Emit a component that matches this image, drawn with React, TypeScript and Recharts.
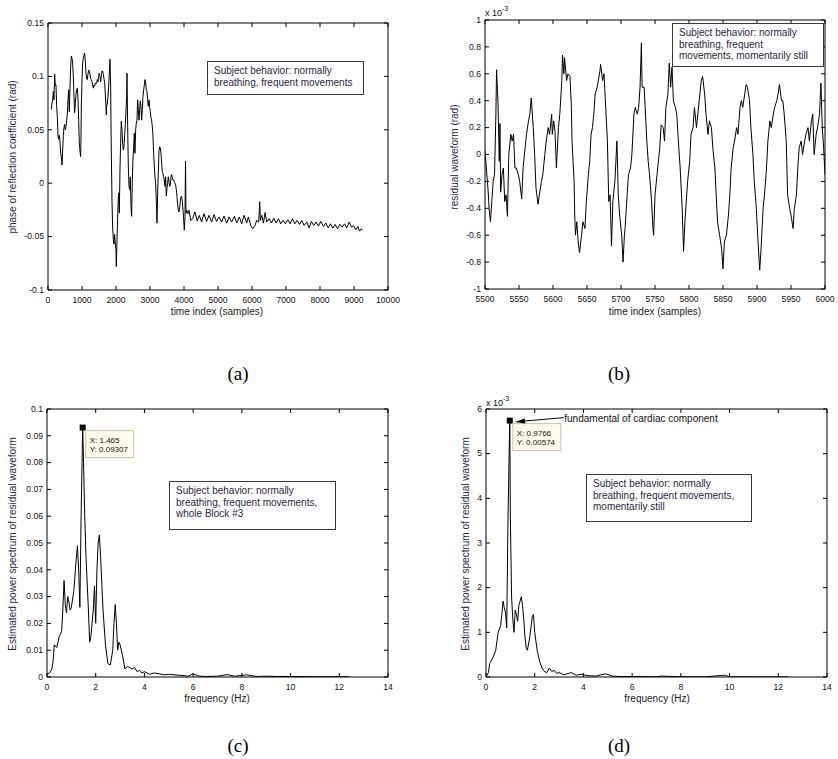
import React from 'react'
import { LineChart, Line, XAxis, YAxis, ReferenceDot } from 'recharts'

const SANS = '"Liberation Sans", Arial, Helvetica, sans-serif'
const SERIF = '"Liberation Serif", "Times New Roman", serif'

// (a) phase of reflection coefficient vs time index
const phaseIdx = [
  98, 118, 137, 157, 176, 196, 216, 235, 255, 274, 294, 314, 333, 353, 372, 392, 412, 431, 451, 470,
  490, 510, 529, 549, 568, 588, 608, 627, 647, 666, 686, 706, 725, 745, 764, 784, 804, 823, 843, 862,
  882, 902, 921, 941, 960, 970, 980, 1000, 1019, 1039, 1058, 1078, 1098, 1117, 1137, 1156, 1176, 1196,
  1215, 1235, 1254, 1274, 1294, 1313, 1333, 1352, 1372, 1392, 1411, 1431, 1450, 1470, 1490, 1509, 1529,
  1548, 1568, 1588, 1607, 1627, 1646, 1666, 1686, 1705, 1715, 1725, 1745, 1764, 1784, 1803, 1823, 1843,
  1852, 1862, 1882, 1901, 1921, 1940, 1960, 1980, 1999, 2009, 2019, 2038, 2058, 2078, 2097, 2117, 2136,
  2156, 2176, 2195, 2215, 2234, 2254, 2274, 2293, 2313, 2323, 2343, 2362, 2382, 2401, 2421, 2441, 2460,
  2480, 2499, 2519, 2539, 2558, 2578, 2597, 2617, 2637, 2656, 2676, 2695, 2715, 2735, 2754, 2774, 2794,
  2813, 2833, 2852, 2872, 2891, 2911, 2931, 2950, 2970, 2989, 3009, 3029, 3048, 3068, 3087, 3107, 3127,
  3146, 3166, 3186, 3205, 3225, 3244, 3264, 3284, 3303, 3323, 3342, 3362, 3382, 3401, 3421, 3440, 3460,
  3480, 3499, 3519, 3539, 3558, 3578, 3597, 3617, 3637, 3656, 3676, 3695, 3715, 3735, 3754, 3774, 3794,
  3813, 3833, 3852, 3872, 3892, 3911, 3931, 3950, 3970, 3990, 4009, 4029, 4045, 4058, 4076, 4116, 4145,
  4200, 4253, 4322, 4390, 4450, 4518, 4587, 4666, 4734, 4813, 4882, 4960, 5029, 5108, 5176, 5255, 5324,
  5402, 5481, 5550, 5628, 5697, 5766, 5844, 5894, 5962, 6021, 6090, 6139, 6198, 6227, 6247, 6287, 6336,
  6385, 6434, 6503, 6571, 6640, 6709, 6778, 6846, 6915, 6984, 7053, 7121, 7190, 7259, 7327, 7396, 7465,
  7533, 7612, 7680, 7749, 7818, 7886, 7955, 8024, 8102, 8171, 8240, 8309, 8377, 8446, 8515, 8584, 8652,
  8721, 8790, 8859, 8928, 8986, 9055, 9114, 9163, 9212, 9251,
]
const phaseRad = [
  0.069, 0.075, 0.078, 0.086, 0.078, 0.102, 0.091, 0.092, 0.072, 0.0625, 0.044, 0.041, 0.045, 0.039, 0.028,
  0.025, 0.017, 0.031, 0.045, 0.052, 0.055, 0.05, 0.053, 0.059, 0.064, 0.078, 0.0875, 0.067, 0.09, 0.109,
  0.119, 0.117, 0.1125, 0.1, 0.081, 0.066, 0.075, 0.083, 0.0875, 0.089, 0.08, 0.059, 0.0375, 0.03, 0.025,
  0.041, 0.072, 0.097, 0.1125, 0.117, 0.12, 0.122, 0.114, 0.103, 0.098, 0.097, 0.102, 0.106, 0.105, 0.102,
  0.098, 0.097, 0.095, 0.092, 0.089, 0.092, 0.091, 0.094, 0.093, 0.094, 0.097, 0.095, 0.1, 0.103, 0.1,
  0.095, 0.1, 0.105, 0.105, 0.102, 0.098, 0.094, 0.083, 0.072, 0.064, 0.072, 0.075, 0.081, 0.09, 0.103,
  0.116, 0.09, 0.059, 0.031, -0.016, -0.041, -0.053, -0.057, -0.048, -0.056, -0.0625, -0.078, -0.066,
  -0.044, -0.022, -0.009, -0.028, 0.0125, 0.0375, 0.058, 0.05, 0.0375, 0.031, 0.034, 0.045, 0.055, 0.067,
  0.081, 0.103, 0.053, 0.016, -0.003, -0.006, 0.006, -0.022, -0.031, 0.003, 0.022, 0.034, 0.047, 0.028,
  0.05, 0.056, 0.059, 0.078, 0.069, 0.059, 0.069, 0.077, 0.072, 0.059, 0.069, 0.081, 0.0875, 0.092, 0.097,
  0.094, 0.0875, 0.086, 0.078, 0.072, 0.078, 0.072, 0.067, 0.061, 0.059, 0.053, 0.044, 0.028, 0.016, 0.006,
  0.0, -0.016, -0.0375, -0.009, 0.009, 0.03, 0.034, 0.033, 0.028, 0.019, 0.011, 0.009, 0.006, 0.003,
  -0.003, 0.006, -0.012, -0.005, 0.0, 0.006, 0.0016, -0.003, -0.0016, 0.006, 0.008, 0.005, 0.003, 0.003,
  0.0016, 0.0, -0.0016, -0.006, -0.0125, -0.02, -0.025, -0.027, -0.023, -0.017, -0.0125, -0.0125, -0.017,
  -0.025, -0.034, -0.044, -0.031, 0.0206, -0.028, -0.0253, -0.0285, -0.0253, -0.035, -0.0332, -0.0269,
  -0.0354, -0.0301, -0.0364, -0.0285, -0.0358, -0.0301, -0.0364, -0.0294, -0.0358, -0.0316, -0.0364,
  -0.0307, -0.0373, -0.0316, -0.0364, -0.031, -0.0373, -0.0316, -0.038, -0.0301, -0.0373, -0.0316,
  -0.0396, -0.0427, -0.0396, -0.0348, -0.0364, -0.0174, -0.0348, -0.0301, -0.0373, -0.0275, -0.0364,
  -0.0332, -0.0373, -0.0326, -0.0373, -0.0332, -0.038, -0.0348, -0.038, -0.0342, -0.038, -0.0332, -0.038,
  -0.0348, -0.0386, -0.0348, -0.0396, -0.0364, -0.0418, -0.0358, -0.0396, -0.0364, -0.0402, -0.0358,
  -0.0405, -0.0373, -0.0418, -0.038, -0.0421, -0.0386, -0.0427, -0.0386, -0.0411, -0.038, -0.0418,
  -0.0364, -0.0411, -0.0396, -0.0437, -0.0405, -0.0449, -0.0427, -0.0437,
]
const phaseTicksX = [0, 1000, 2000, 3000, 4000, 5000, 6000, 7000, 8000, 9000, 10000]
const phaseTicksY = [-0.1, -0.05, 0, 0.05, 0.1, 0.15]

// (b) residual waveform, values in units of 1e-3 rad
const residIdx = [
  5500, 5502, 5505, 5506, 5508, 5510, 5512, 5514, 5516, 5517, 5519, 5521, 5522, 5523, 5525, 5527, 5529,
  5531, 5533, 5535, 5538, 5540, 5542, 5544, 5546, 5549, 5551, 5554, 5556, 5559, 5561, 5564, 5566, 5568,
  5571, 5573, 5575, 5578, 5580, 5583, 5585, 5588, 5590, 5593, 5595, 5598, 5599, 5601, 5603, 5605, 5608,
  5610, 5613, 5614, 5616, 5617, 5620, 5622, 5625, 5627, 5628, 5631, 5632, 5633, 5635, 5637, 5639, 5642,
  5644, 5647, 5649, 5652, 5654, 5656, 5658, 5660, 5662, 5665, 5669, 5670, 5673, 5675, 5677, 5680, 5682,
  5684, 5686, 5688, 5691, 5692, 5694, 5696, 5698, 5701, 5703, 5705, 5706, 5709, 5711, 5714, 5716, 5719,
  5721, 5724, 5726, 5728, 5730, 5731, 5734, 5736, 5738, 5740, 5742, 5745, 5747, 5748, 5750, 5753, 5754,
  5757, 5759, 5762, 5764, 5766, 5769, 5771, 5773, 5775, 5777, 5780, 5782, 5785, 5787, 5790, 5792, 5794,
  5796, 5798, 5801, 5803, 5806, 5808, 5811, 5813, 5816, 5818, 5820, 5823, 5825, 5828, 5830, 5833, 5835,
  5838, 5840, 5842, 5845, 5848, 5850, 5852, 5855, 5858, 5860, 5862, 5865, 5867, 5870, 5872, 5875, 5877,
  5879, 5882, 5884, 5886, 5889, 5891, 5894, 5896, 5899, 5901, 5904, 5906, 5909, 5911, 5914, 5916, 5919,
  5921, 5924, 5926, 5929, 5931, 5933, 5936, 5938, 5940, 5943, 5945, 5948, 5950, 5953, 5955, 5958, 5960,
  5962, 5965, 5967, 5970, 5972, 5975, 5977, 5980, 5982, 5984, 5987, 5989, 5992, 5994, 5996, 5998, 6000,
]
const residMilli = [
  0.03, -0.1, -0.3, -0.4, -0.5, -0.35, -0.2, -0.15, 0.3, 0.63, 0.4, -0.05, 0.23, -0.28, -0.15, -0.1, -0.35,
  -0.3, -0.46, 0.0, 0.15, 0.1, 0.15, -0.1, -0.1, -0.15, -0.2, -0.33, -0.1, 0.05, 0.15, 0.25, 0.3, 0.42,
  0.2, 0.0, -0.25, -0.37, -0.3, -0.2, -0.15, 0.0, 0.1, 0.2, 0.15, 0.3, 0.15, 0.25, 0.17, -0.1, 0.2,
  0.3, 0.55, 0.74, 0.6, 0.72, 0.55, 0.6, 0.58, 0.35, 0.1, -0.2, -0.45, -0.6, -0.5, -0.65, -0.73, -0.6,
  -0.5, -0.55, -0.35, -0.15, -0.05, 0.15, 0.2, 0.3, 0.45, 0.5, 0.62, 0.67, 0.55, 0.6, 0.4, 0.1, -0.35,
  -0.3, -0.68, -0.35, -0.2, -0.1, 0.1, -0.3, -0.45, -0.6, -0.8, -0.6, -0.55, -0.3, -0.15, -0.1, 0.0, 0.3,
  0.35, 0.3, 0.35, 0.5, 0.83, 0.5, 0.5, 0.3, 0.1, -0.05, -0.15, -0.35, -0.55, -0.6, -0.3, -0.15, -0.1,
  0.05, 0.22, 0.2, 0.1, 0.35, 0.45, 0.68, 0.5, 0.65, 0.4, 0.35, 0.3, 0.05, -0.1, -0.4, -0.72, -0.5,
  -0.35, -0.2, -0.05, 0.15, 0.2, 0.35, 0.2, 0.3, 0.45, 0.55, 0.58, 0.45, 0.3, 0.15, 0.25, 0.2, 0.05,
  -0.1, -0.3, -0.5, -0.6, -0.7, -0.85, -0.65, -0.6, -0.45, -0.3, -0.1, 0.05, 0.1, 0.2, 0.15, 0.35, 0.4,
  0.35, 0.45, 0.52, 0.5, 0.4, 0.2, 0.0, -0.2, -0.4, -0.6, -0.86, -0.7, -0.4, -0.3, -0.1, 0.1, 0.25,
  0.2, 0.3, 0.35, 0.4, 0.45, 0.52, 0.4, 0.4, 0.3, 0.1, -0.3, -0.4, -0.45, -0.55, -0.4, -0.3, -0.1,
  0.05, 0.1, 0.0, 0.1, 0.15, 0.2, 0.1, 0.25, 0.3, 0.0, 0.15, 0.2, 0.3, 0.53, 0.2, 0.05, -0.15,
]
const residTicksX = [5500, 5550, 5600, 5650, 5700, 5750, 5800, 5850, 5900, 5950, 6000]
const residTicksY = [-1, -0.8, -0.6, -0.4, -0.2, 0, 0.2, 0.4, 0.6, 0.8, 1]

// (c) spectrum, whole Block #3
const blockHz = [
  0, 0.1, 0.2, 0.25, 0.3, 0.4, 0.45, 0.5, 0.6, 0.65, 0.7, 0.75, 0.8, 0.85, 0.9, 0.95, 1.0, 1.1, 1.2, 1.25,
  1.3, 1.35, 1.4, 1.465, 1.5, 1.55, 1.6, 1.7, 1.75, 1.8, 1.9, 1.95, 2.0, 2.05, 2.1, 2.15, 2.2, 2.3, 2.4,
  2.5, 2.6, 2.7, 2.75, 2.8, 2.85, 2.9, 2.95, 3.0, 3.1, 3.2, 3.3, 3.4, 3.5, 3.6, 3.7, 3.8, 3.9, 4.0, 4.2,
  4.4, 4.6, 4.8, 5.0, 5.5, 5.8, 6.0, 6.2, 6.5, 7.0, 7.4, 7.7, 8.2, 8.6, 9.0, 9.5, 10, 11, 12, 12.4,
]
const blockPower = [
  0.001, 0.0015, 0.003, 0.006, 0.012, 0.011, 0.013, 0.015, 0.017, 0.025, 0.036, 0.027, 0.024, 0.03, 0.028,
  0.025, 0.026, 0.032, 0.044, 0.049, 0.04, 0.026, 0.06, 0.09307, 0.08, 0.06, 0.045, 0.025, 0.013, 0.015,
  0.025, 0.034, 0.02, 0.04, 0.05, 0.053, 0.045, 0.025, 0.012, 0.005, 0.0045, 0.01, 0.02, 0.027, 0.02,
  0.01, 0.013, 0.012, 0.008, 0.003, 0.004, 0.0035, 0.003, 0.0035, 0.002, 0.0025, 0.0015, 0.002, 0.001,
  0.0015, 0.0012, 0.0008, 0.001, 0.0006, 0.0003, 0.0012, 0.0004, 0.0002, 0.0003, 0.0009, 0.0003, 0.0008,
  0.0002, 0.0003, 0.0002, 0.0002, 0.0001, 0.0001, 0.0001,
]
const blockTicksY = [0, 0.01, 0.02, 0.03, 0.04, 0.05, 0.06, 0.07, 0.08, 0.09, 0.1]
const blockPeak = { x: 1.465, y: 0.09307 }

// (d) spectrum, momentarily still, values in units of 1e-3
const stillHz = [
  0, 0.1, 0.15, 0.3, 0.4, 0.5, 0.6, 0.65, 0.7, 0.75, 0.8, 0.85, 0.9, 0.95, 0.9766, 1.0, 1.05, 1.1, 1.15,
  1.2, 1.25, 1.3, 1.35, 1.4, 1.45, 1.5, 1.55, 1.6, 1.65, 1.7, 1.8, 1.9, 1.95, 2.0, 2.1, 2.2, 2.3, 2.4,
  2.5, 2.6, 2.7, 2.8, 2.9, 3.0, 3.2, 3.5, 3.7, 3.9, 4.2, 4.5, 4.9, 5.2, 5.5, 6.0, 7.0, 7.2, 8.0, 9.0,
  9.8, 10, 11, 12.4,
]
const stillPower = [
  0.0, 0.1, 0.3, 0.45, 0.6, 1.0, 1.15, 1.4, 1.7, 1.55, 1.45, 1.1, 3.4, 5.0, 5.74, 3.6, 1.8, 1.3, 1.0,
  1.5, 1.4, 1.25, 1.6, 1.7, 1.8, 1.6, 1.3, 0.9, 0.65, 0.6, 0.9, 1.35, 1.4, 1.0, 0.6, 0.35, 0.2, 0.12,
  0.1, 0.2, 0.12, 0.15, 0.08, 0.1, 0.05, 0.1, 0.04, 0.06, 0.03, 0.02, 0.07, 0.02, 0.01, 0.01, 0.005, 0.02,
  0.005, 0.005, 0.04, 0.005, 0.003, 0.003,
]
const stillTicksY = [0, 1, 2, 3, 4, 5, 6]
const stillPeak = { x: 0.9766, y: 5.74 }

const freqTicksX = [0, 2, 4, 6, 8, 10, 12, 14]

const zip = (xs: number[], ys: number[]) => xs.map((x, i) => ({ x, y: ys[i] }))

type Side = 'bottom' | 'top' | 'left' | 'right'
const TL = 4

const tickFor = (side: Side, label: boolean) => (p: any) => {
  const { x, y, payload } = p
  const v = payload.value
  let x2 = x
  let y2 = y
  if (side === 'bottom') y2 = y - TL
  if (side === 'top') y2 = y + TL
  if (side === 'left') x2 = x + TL
  if (side === 'right') x2 = x - TL
  return (
    <g>
      <line x1={x} y1={y} x2={x2} y2={y2} stroke="#000" strokeWidth={1} />
      {label && side === 'bottom' && (
        <text x={x} y={y + 12.5} textAnchor="middle" fontSize={8.6} fontFamily={SANS} fill="#111">
          {String(v)}
        </text>
      )}
      {label && side === 'left' && (
        <text x={x - 4} y={y + 2.8} textAnchor="end" fontSize={8.6} fontFamily={SANS} fill="#111">
          {String(v)}
        </text>
      )}
    </g>
  )
}

interface PanelProps {
  left: number
  top: number
  box: { top: number; right: number; bottom: number; left: number }
  data: { x: number; y: number }[]
  xDomain: [number, number]
  xTicks: number[]
  yDomain: [number, number]
  yTicks: number[]
  children?: React.ReactNode
}

// box = distances of the plot frame from the chart edges; each axis takes 1px of it
function Panel({ left, top, box, data, xDomain, xTicks, yDomain, yTicks, children }: PanelProps) {
  const margin = { top: box.top - 1, right: box.right - 1, bottom: box.bottom - 1, left: box.left - 1 }
  const common = {
    type: 'number' as const,
    interval: 0 as const,
    allowDataOverflow: true,
    tickSize: 0,
    tickMargin: 0,
    tickLine: false,
    axisLine: { stroke: '#000' },
  }
  return (
    <div style={{ position: 'absolute', left, top }}>
      <LineChart width={419} height={330} data={data} margin={margin}>
        <XAxis {...common} dataKey="x" domain={xDomain} ticks={xTicks} height={1} tick={tickFor('bottom', true)} />
        <XAxis
          {...common}
          xAxisId="top"
          orientation="top"
          dataKey="x"
          domain={xDomain}
          ticks={xTicks}
          height={1}
          tick={tickFor('top', false)}
        />
        <YAxis {...common} domain={yDomain} ticks={yTicks} width={1} tick={tickFor('left', true)} />
        <YAxis
          {...common}
          yAxisId="right"
          orientation="right"
          domain={yDomain}
          ticks={yTicks}
          width={1}
          tick={tickFor('right', false)}
        />
        <Line
          type="linear"
          dataKey="y"
          stroke="#000"
          strokeWidth={1}
          dot={false}
          activeDot={false}
          isAnimationActive={false}
        />
        {children}
      </LineChart>
    </div>
  )
}

const DataTip = (lines: string[], arrowText?: string) => (p: any) => {
  const { cx, cy } = p
  return (
    <g fontFamily={SANS}>
      <rect x={cx - 3} y={cy - 3} width={6} height={6} fill="#000" />
      <rect x={cx + 3} y={cy + 3} width={48} height={27} fill="#fffbea" stroke="#c8c2ae" strokeWidth={1} />
      <text x={cx + 7} y={cy + 15.5} fontSize={8} fill="#111">{lines[0]}</text>
      <text x={cx + 7} y={cy + 24.5} fontSize={8} fill="#111">{lines[1]}</text>
      {arrowText && (
        <g>
          <line x1={cx + 54} y1={cy - 3} x2={cx + 14} y2={cy + 0.5} stroke="#000" strokeWidth={1} />
          <polygon
            points={`${cx + 5},${cy + 1.3} ${cx + 15},${cy - 2} ${cx + 15.5},${cy + 3}`}
            fill="#000"
          />
          <text x={cx + 54.5} y={cy + 1.5} fontSize={10} fill="#111">{arrowText}</text>
        </g>
      )}
    </g>
  )
}

const Note = ({ left, top, width, height, lines }: { left: number; top: number; width: number; height: number; lines: string[] }) => (
  <div
    style={{
      position: 'absolute',
      left,
      top,
      width,
      height,
      boxSizing: 'border-box',
      border: '1px solid #3a3a3a',
      background: '#fff',
      padding: '3px 0 0 6px',
      fontFamily: SANS,
      fontSize: 10,
      lineHeight: '11.6px',
      color: '#2b2540',
      whiteSpace: 'nowrap',
    }}
  >
    {lines.map((l) => (
      <div key={l}>{l}</div>
    ))}
  </div>
)

const Txt = ({ x, y, children, rotate, size = 10, family = SANS, color = '#222' }: any) => (
  <div
    style={{
      position: 'absolute',
      left: x,
      top: y,
      transform: `translate(-50%, -50%)${rotate ? ' rotate(-90deg)' : ''}`,
      fontFamily: family,
      fontSize: size,
      color,
      whiteSpace: 'nowrap',
      lineHeight: 1,
    }}
  >
    {children}
  </div>
)

const Exp = ({ x, y }: { x: number; y: number }) => (
  <div style={{ position: 'absolute', left: x, top: y, fontFamily: SANS, fontSize: 9, color: '#111', whiteSpace: 'nowrap', lineHeight: 1 }}>
    x 10<sup style={{ fontSize: 7, position: 'relative', top: -1 }}>-3</sup>
  </div>
)

export default function App() {
  return (
    <div style={{ position: 'absolute', left: 0, top: 0, width: 838, height: 759, background: '#fff', overflow: 'hidden' }}>
      <Panel
        left={0}
        top={0}
        box={{ top: 23, right: 31, bottom: 40, left: 48 }}
        data={zip(phaseIdx, phaseRad)}
        xDomain={[0, 10000]}
        xTicks={phaseTicksX}
        yDomain={[-0.1, 0.15]}
        yTicks={phaseTicksY}
      />
      <Panel
        left={419}
        top={0}
        box={{ top: 20, right: 13, bottom: 41, left: 66 }}
        data={zip(residIdx, residMilli)}
        xDomain={[5500, 6000]}
        xTicks={residTicksX}
        yDomain={[-1, 1]}
        yTicks={residTicksY}
      />
      <Panel
        left={0}
        top={390}
        box={{ top: 19, right: 31, bottom: 43, left: 47 }}
        data={zip(blockHz, blockPower)}
        xDomain={[0, 14]}
        xTicks={freqTicksX}
        yDomain={[0, 0.1]}
        yTicks={blockTicksY}
      >
        <ReferenceDot x={blockPeak.x} y={blockPeak.y} shape={DataTip(['X: 1.465', 'Y: 0.09307'])} />
      </Panel>
      <Panel
        left={419}
        top={390}
        box={{ top: 19, right: 11, bottom: 43, left: 67 }}
        data={zip(stillHz, stillPower)}
        xDomain={[0, 14]}
        xTicks={freqTicksX}
        yDomain={[0, 6]}
        yTicks={stillTicksY}
      >
        <ReferenceDot
          x={stillPeak.x}
          y={stillPeak.y}
          shape={DataTip(['X: 0.9766', 'Y: 0.00574'], 'fundamental of cardiac component')}
        />
      </Panel>

      <Note left={207} top={61} width={157} height={34} lines={['Subject behavior: normally', 'breathing, frequent movements']} />
      <Note left={672} top={23} width={152} height={44} lines={['Subject behavior: normally', 'breathing, frequent', 'movements, momentarily still']} />
      <Note left={169} top={481} width={167} height={49} lines={['Subject behavior: normally', 'breathing, frequent movements,', 'whole Block #3']} />
      <Note left={586} top={474} width={166} height={48} lines={['Subject behavior: normally', 'breathing, frequent movements,', 'momentarily still']} />

      <Exp x={485} y={6} />
      <Exp x={486} y={396} />

      <Txt x={13} y={157} rotate color="#2b2540">phase of reflection coefficient (rad)</Txt>
      <Txt x={455} y={157} rotate color="#2b2540">residual waveform (rad)</Txt>
      <Txt x={13} y={544} rotate color="#2b2540">Estimated power spectrum of residual waveform</Txt>
      <Txt x={466} y={544} rotate color="#2b2540">Estimated power spectrum of residual waveform</Txt>

      <Txt x={217} y={312}>time index (samples)</Txt>
      <Txt x={655} y={312}>time index (samples)</Txt>
      <Txt x={217} y={699}>frequency (Hz)</Txt>
      <Txt x={657} y={699}>frequency (Hz)</Txt>

      <Txt x={238} y={373} size={19} family={SERIF} color="#000">(a)</Txt>
      <Txt x={619} y={373} size={19} family={SERIF} color="#000">(b)</Txt>
      <Txt x={238} y={745} size={19} family={SERIF} color="#000">(c)</Txt>
      <Txt x={619} y={745} size={19} family={SERIF} color="#000">(d)</Txt>
    </div>
  )
}
